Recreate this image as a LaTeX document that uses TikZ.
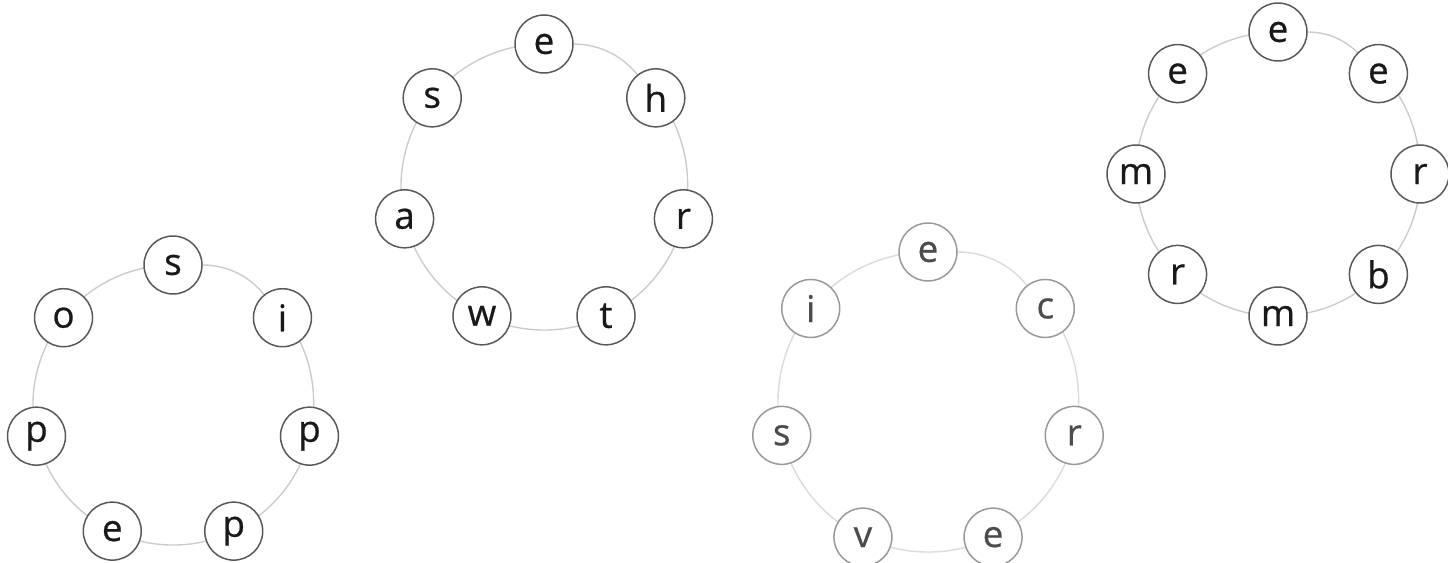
\documentclass[tikz,border=0pt]{standalone}
\usepackage{fontspec}
\newfontfamily\letterfont[FakeBold=0.6]{Open Sans}
\usetikzlibrary{positioning}
\usetikzlibrary{backgrounds}
\tikzset{
    letternode/.style = {circle, draw=black!65, line width=0.85pt, fill=white, minimum size=1.16cm, inner sep=0pt, align=center, font=\letterfont\fontsize{21}{24}\selectfont, text=black!90},
    letternodeg/.style = {letternode, draw=black!40, text=black!70},
    ringn/.style = {-, line width=0.8pt, black!20, looseness=0.9},
    ringg/.style = {-, line width=0.8pt, black!14, looseness=0.9}
}

\begin{document}
\begin{tikzpicture}[x=0.02cm, y=0.02cm]
  \useasboundingbox (0,0) rectangle (1448,562);

  % ring 1
  \begin{scope}[shift={(173,157)}]
    \node[letternode] (a1) at (90:140) {s};
    \node[letternode] (a2) at (38.57:140) {i};
    \node[letternode] (a3) at (-12.86:140) {p};
    \node[letternode] (a4) at (-64.29:140) {p};
    \node[letternode] (a5) at (-115.71:140) {e};
    \node[letternode] (a6) at (-167.14:140) {p};
    \node[letternode] (a7) at (141.43:140) {o};
    \begin{pgfonlayer}{background}
    \draw[ringn] (a1) to[bend left=25.7] (a2) to[bend left=25.7] (a3) to[bend left=25.7] (a4)
      to[bend left=25.7] (a5) to[bend left=25.7] (a6) to[bend left=25.7] (a7) to[bend left=25.7] (a1);
    \end{pgfonlayer}
  \end{scope}

  % ring 2
  \begin{scope}[shift={(544,375)}]
    \node[letternode] (b1) at (90:143) {e};
    \node[letternode] (b2) at (38.57:143) {h};
    \node[letternode] (b3) at (-12.86:143) {r};
    \node[letternode] (b4) at (-64.29:143) {t};
    \node[letternode] (b5) at (-115.71:143) {w};
    \node[letternode] (b6) at (-167.14:143) {a};
    \node[letternode] (b7) at (141.43:143) {s};
    \begin{pgfonlayer}{background}
    \draw[ringn] (b1) to[bend left=25.7] (b2) to[bend left=25.7] (b3) to[bend left=25.7] (b4)
      to[bend left=25.7] (b5) to[bend left=25.7] (b6) to[bend left=25.7] (b7) to[bend left=25.7] (b1);
    \end{pgfonlayer}
  \end{scope}

  % ring 3
  \begin{scope}[shift={(928,160)}]
    \node[letternodeg] (c1) at (90:150) {e};
    \node[letternodeg] (c2) at (38.57:150) {c};
    \node[letternodeg] (c3) at (-12.86:150) {r};
    \node[letternodeg] (c4) at (-64.29:150) {e};
    \node[letternodeg] (c5) at (-115.71:150) {v};
    \node[letternodeg] (c6) at (-167.14:150) {s};
    \node[letternodeg] (c7) at (141.43:150) {i};
    \begin{pgfonlayer}{background}
    \draw[ringg] (c1) to[bend left=25.7] (c2) to[bend left=25.7] (c3) to[bend left=25.7] (c4)
      to[bend left=25.7] (c5) to[bend left=25.7] (c6) to[bend left=25.7] (c7) to[bend left=25.7] (c1);
    \end{pgfonlayer}
  \end{scope}

  % ring 4
  \begin{scope}[shift={(1278,388)}]
    \node[letternode] (d1) at (90:142) {e};
    \node[letternode] (d2) at (45:142) {e};
    \node[letternode] (d3) at (0:142) {r};
    \node[letternode] (d4) at (-45:142) {b};
    \node[letternode] (d5) at (-90:142) {m};
    \node[letternode] (d6) at (-135:142) {r};
    \node[letternode] (d7) at (180:142) {m};
    \node[letternode] (d8) at (135:142) {e};
    \begin{pgfonlayer}{background}
    \draw[ringn] (d1) to[bend left=22.5] (d2) to[bend left=22.5] (d3) to[bend left=22.5] (d4)
      to[bend left=22.5] (d5) to[bend left=22.5] (d6) to[bend left=22.5] (d7)
      to[bend left=22.5] (d8) to[bend left=22.5] (d1);
    \end{pgfonlayer}
  \end{scope}
\end{tikzpicture}
\end{document}
